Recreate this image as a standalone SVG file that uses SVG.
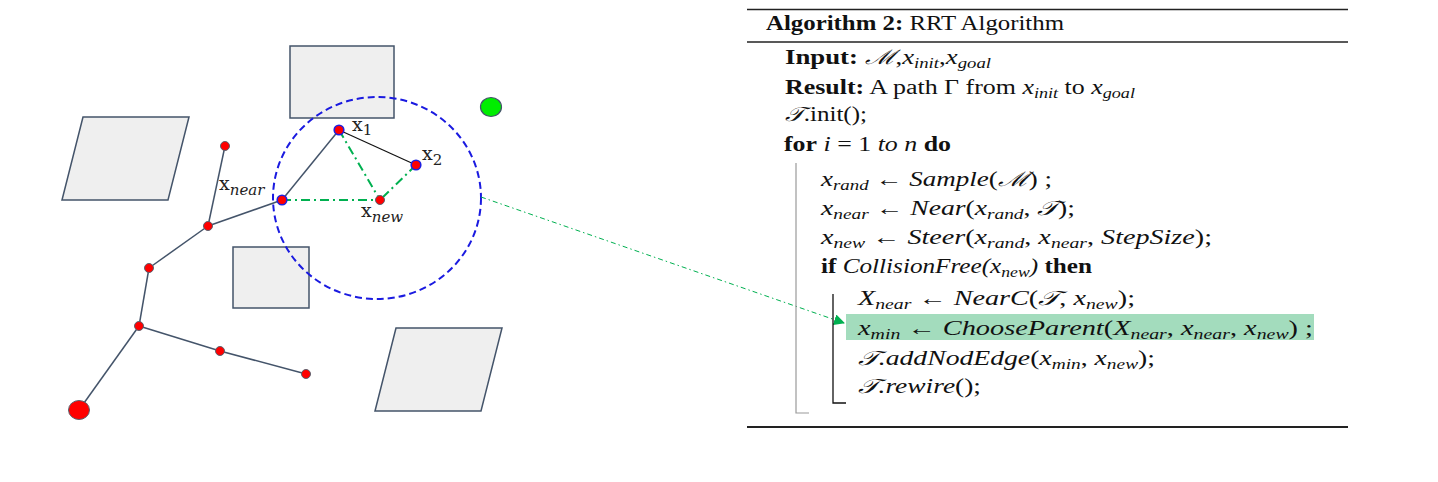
<svg xmlns="http://www.w3.org/2000/svg" width="1438" height="482" viewBox="0 0 1438 482">
<style>
.obs{fill:#efefef;stroke:#44546a;stroke-width:1.5}
.edge{stroke:#44546a;stroke-width:1.5;fill:none}
.gd{stroke:#00b050;stroke-width:2;fill:none;stroke-dasharray:9 4 2 4}
.tn{fill:#ff0000;stroke:#5a6270;stroke-width:1}
.bn{fill:#ff0000;stroke:#1f1fe0;stroke-width:1.6}
.lbl{font-family:"DejaVu Serif","Liberation Serif",serif;font-size:19px;fill:#222}
.lsub{font-size:15px}
.t{font-family:"Liberation Serif","DejaVu Serif",serif;font-size:20px;fill:#111}
.b{font-weight:bold}
.m{font-style:italic}
.r{font-style:normal}
.s{font-size:14px;font-style:italic}
</style>
<defs>
<marker id="ah" markerWidth="11" markerHeight="11" refX="10" refY="5.5" orient="auto" markerUnits="userSpaceOnUse">
<path d="M0,0 L11,5.5 L0,11 Z" fill="#00b050"/>
</marker>
</defs>
<rect width="1438" height="482" fill="#ffffff"/>

<g id="obstacles">
<rect id="obs-top" class="obs" x="290" y="46" width="104" height="72"/>
<polygon id="obs-left" class="obs" points="83,117 189,117 168,200 62,200"/>
<rect id="obs-mid" class="obs" x="233" y="247" width="76" height="61"/>
<polygon id="obs-br" class="obs" points="396,328 502,328 481,411 375,411"/>
</g>

<g id="search-circle">
<ellipse cx="377" cy="198" rx="104" ry="101" fill="none" stroke="#1a1ae0" stroke-width="2" stroke-dasharray="7 4"/>
</g>

<g id="goal"><ellipse cx="491" cy="107" rx="10.5" ry="9.5" fill="#00ee00" stroke="#44546a" stroke-width="1.2"/></g>

<g id="connectors">
<line class="edge" x1="79" y1="410" x2="139" y2="326"/>
<line class="edge" x1="139" y1="326" x2="149" y2="268"/>
<line class="edge" x1="149" y1="268" x2="208" y2="226"/>
<line class="edge" x1="208" y1="226" x2="225" y2="146"/>
<line class="edge" x1="208" y1="226" x2="282" y2="200"/>
<line class="edge" x1="282" y1="200" x2="339" y2="130"/>
<line class="edge" x1="139" y1="326" x2="220" y2="351"/>
<line class="edge" x1="220" y1="351" x2="306" y2="374"/>
<line x1="339" y1="130" x2="416" y2="165" stroke="#111" stroke-width="1.2"/>
<line class="gd" x1="282" y1="200" x2="380" y2="200"/>
<line class="gd" x1="339" y1="130" x2="380" y2="200"/>
<line class="gd" x1="416" y1="165" x2="380" y2="200"/>
<line x1="481" y1="197" x2="844" y2="323" stroke="#00b050" stroke-width="1" stroke-dasharray="5 3 1.5 3" marker-end="url(#ah)"/>
</g>

<g id="tree-nodes">
<ellipse id="n-root" cx="79" cy="410" rx="10.5" ry="9.5" class="tn"/>
<circle id="n-a" cx="139" cy="326" r="4.5" class="tn"/>
<circle id="n-b" cx="149" cy="268" r="4.5" class="tn"/>
<circle id="n-c" cx="208" cy="226" r="4.5" class="tn"/>
<circle id="n-d" cx="225" cy="146" r="4.5" class="tn"/>
<circle id="n-e" cx="220" cy="351" r="4.5" class="tn"/>
<circle id="n-f" cx="306" cy="374" r="4.5" class="tn"/>
</g>

<g id="node-xnear"><circle cx="282" cy="200" r="4.8" class="bn"/>
<text class="lbl" x="219" y="190">x<tspan class="lsub" font-style="italic" dy="5">near</tspan></text></g>
<g id="node-x1"><circle cx="339" cy="130" r="4.8" class="bn"/>
<text class="lbl" x="352" y="131">x<tspan class="lsub" dy="4">1</tspan></text></g>
<g id="node-x2"><circle cx="416" cy="165" r="4.8" class="bn"/>
<text class="lbl" x="422" y="160">x<tspan class="lsub" dy="5">2</tspan></text></g>
<g id="node-xnew"><circle cx="380" cy="200" r="4.5" class="tn"/>
<text class="lbl" x="361" y="217">x<tspan class="lsub" font-style="italic" dy="5">new</tspan></text></g>

<g id="algorithm">
<line x1="747" y1="9.5" x2="1348" y2="9.5" stroke="#222" stroke-width="1.5"/>
<line x1="747" y1="42" x2="1348" y2="42" stroke="#222" stroke-width="1.5"/>
<line x1="747" y1="427" x2="1348" y2="427" stroke="#222" stroke-width="2"/>
<rect x="846" y="314" width="468" height="26" fill="#a3dcbd"/>
<polyline points="796,163 796,413 809,413" fill="none" stroke="#9a9a9a" stroke-width="1.2"/>
<polyline points="833,294 833,403 846,403" fill="none" stroke="#111" stroke-width="1.3"/>

<text class="t" x="766" y="30" textLength="298" lengthAdjust="spacingAndGlyphs"><tspan class="b">Algorithm 2:</tspan> RRT Algorithm</text>
<text class="t" x="785" y="64" textLength="206" lengthAdjust="spacingAndGlyphs"><tspan class="b">Input:</tspan> <tspan class="m">ℳ</tspan>,<tspan class="m">x</tspan><tspan class="s" dy="4">init</tspan><tspan dy="-4">,</tspan><tspan class="m">x</tspan><tspan class="s" dy="4">goal</tspan></text>
<text class="t" x="785" y="94" textLength="350" lengthAdjust="spacingAndGlyphs"><tspan class="b">Result:</tspan> A path Γ from <tspan class="m">x</tspan><tspan class="s" dy="4">init</tspan><tspan dy="-4"> to </tspan><tspan class="m">x</tspan><tspan class="s" dy="4">goal</tspan></text>
<text class="t" x="785" y="121" textLength="82" lengthAdjust="spacingAndGlyphs"><tspan class="m">𝒯</tspan>.init();</text>
<text class="t" x="784" y="151" textLength="167" lengthAdjust="spacingAndGlyphs"><tspan class="b">for</tspan> <tspan class="m">i</tspan> = 1 <tspan class="m">to n</tspan> <tspan class="b">do</tspan></text>

<text class="t m" x="821" y="186" textLength="231" lengthAdjust="spacingAndGlyphs">x<tspan class="s" dy="4">rand</tspan><tspan class="r" dy="-4"> ← </tspan>Sample<tspan class="r">(</tspan>ℳ<tspan class="r">) ;</tspan></text>
<text class="t m" x="821" y="215" textLength="254" lengthAdjust="spacingAndGlyphs">x<tspan class="s" dy="4">near</tspan><tspan class="r" dy="-4"> ← </tspan>Near<tspan class="r">(</tspan>x<tspan class="s" dy="4">rand</tspan><tspan class="r" dy="-4">, </tspan>𝒯<tspan class="r">);</tspan></text>
<text class="t m" x="821" y="244" textLength="391" lengthAdjust="spacingAndGlyphs">x<tspan class="s" dy="4">new</tspan><tspan class="r" dy="-4"> ← </tspan>Steer<tspan class="r">(</tspan>x<tspan class="s" dy="4">rand</tspan><tspan class="r" dy="-4">, </tspan>x<tspan class="s" dy="4">near</tspan><tspan class="r" dy="-4">, </tspan>StepSize<tspan class="r">);</tspan></text>
<text class="t" x="821" y="273" textLength="271" lengthAdjust="spacingAndGlyphs"><tspan class="b">if</tspan> <tspan class="m">CollisionFree(x</tspan><tspan class="s" dy="4">new</tspan><tspan class="m" dy="-4">)</tspan> <tspan class="b">then</tspan></text>

<text class="t m" x="858" y="305" textLength="277" lengthAdjust="spacingAndGlyphs">X<tspan class="s" dy="4">near</tspan><tspan class="r" dy="-4"> ← </tspan>NearC<tspan class="r">(</tspan>𝒯<tspan class="r">, </tspan>x<tspan class="s" dy="4">new</tspan><tspan class="r" dy="-4">);</tspan></text>
<text class="t m" x="858" y="335" textLength="455" lengthAdjust="spacingAndGlyphs">x<tspan class="s" dy="4">min</tspan><tspan class="r" dy="-4"> ← </tspan>ChooseParent<tspan class="r">(</tspan>X<tspan class="s" dy="4">near</tspan><tspan class="r" dy="-4">, </tspan>x<tspan class="s" dy="4">near</tspan><tspan class="r" dy="-4">, </tspan>x<tspan class="s" dy="4">new</tspan><tspan class="r" dy="-4">) ;</tspan></text>
<text class="t m" x="858" y="365" textLength="297" lengthAdjust="spacingAndGlyphs">𝒯.addNodEdge<tspan class="r">(</tspan>x<tspan class="s" dy="4">min</tspan><tspan class="r" dy="-4">, </tspan>x<tspan class="s" dy="4">new</tspan><tspan class="r" dy="-4">);</tspan></text>
<text class="t m" x="858" y="393" textLength="123" lengthAdjust="spacingAndGlyphs">𝒯.rewire<tspan class="r">();</tspan></text>
</g>
</svg>
